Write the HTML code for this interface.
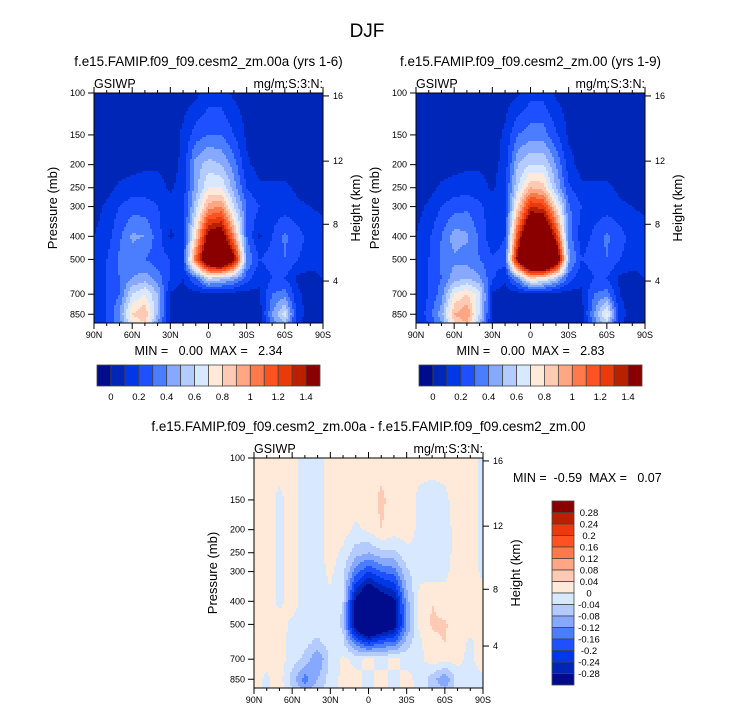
<!DOCTYPE html>
<html><head><meta charset="utf-8"><style>
body{margin:0;background:#fff;}
svg text{font-family:"Liberation Sans",sans-serif;fill:#000;white-space:pre;}
</style></head><body>
<svg id="fig" width="733" height="712" xmlns="http://www.w3.org/2000/svg">
<text x="367" y="37" font-size="19" text-anchor="middle">DJF</text>
</svg>
<script>
// ---- data ----
const lats = [90,80,70,60,50,40,30,20,10,0,-10,-20,-30,-40,-50,-60,-70,-80,-90];
const levels = [100,150,200,250,300,400,500,600,700,850,925];
const fieldA = [
[.05,.05,.05,.05,.05,.05,.05,.05,.07,.15,.15,.08,.05,.05,.05,.05,.05,.05,.05],
[.05,.05,.05,.05,.05,.05,.05,.12,.25,.3,.3,.2,.08,.05,.05,.05,.05,.05,.05],
[.05,.05,.05,.06,.08,.08,.06,.12,.45,.55,.5,.35,.12,.06,.05,.05,.05,.05,.05],
[.05,.06,.12,.15,.15,.15,.08,.15,.45,.7,.7,.45,.2,.12,.12,.12,.08,.05,.05],
[.06,.12,.2,.25,.25,.2,.15,.15,.55,.95,1.0,.6,.3,.2,.15,.15,.12,.1,.08],
[.1,.15,.28,.42,.4,.25,.08,.15,.8,1.5,1.6,1.0,.3,.08,.2,.32,.25,.15,.15],
[.15,.2,.32,.35,.3,.25,.2,.2,1.1,1.8,2.0,1.5,.4,.2,.25,.3,.2,.15,.15],
[.15,.2,.3,.4,.45,.35,.2,.1,.3,.6,.55,.45,.25,.12,.2,.2,.08,.06,.1],
[.12,.2,.3,.6,.7,.5,.08,.05,.05,.05,.05,.05,.05,.08,.3,.35,.12,.05,.05],
[.1,.2,.4,.8,.9,.5,.08,.05,.05,.05,.05,.05,.05,.05,.4,.65,.15,.05,.05],
[.1,.2,.35,.7,.8,.4,.07,.05,.05,.05,.05,.05,.05,.05,.35,.5,.12,.05,.05]];
const fieldB = [
[.05,.05,.05,.05,.05,.05,.05,.05,.08,.16,.16,.08,.05,.05,.05,.05,.05,.05,.05],
[.05,.05,.05,.05,.05,.05,.05,.12,.3,.35,.35,.22,.08,.05,.05,.05,.05,.05,.05],
[.05,.05,.05,.06,.08,.08,.06,.14,.5,.6,.6,.4,.14,.06,.05,.05,.05,.05,.05],
[.05,.06,.12,.15,.15,.15,.08,.18,.6,.9,.85,.5,.22,.12,.12,.12,.08,.05,.05],
[.06,.12,.2,.25,.28,.22,.15,.18,.8,1.3,1.25,.8,.32,.2,.15,.15,.12,.1,.08],
[.1,.18,.3,.45,.42,.28,.12,.2,1.2,1.9,1.9,1.3,.35,.15,.22,.32,.25,.15,.15],
[.15,.2,.32,.38,.35,.3,.22,.25,1.5,2.3,2.4,1.8,.45,.2,.25,.3,.2,.15,.15],
[.15,.2,.3,.45,.5,.42,.22,.12,.4,.8,.75,.55,.25,.12,.2,.2,.08,.06,.1],
[.12,.2,.35,.7,.8,.65,.08,.05,.05,.05,.05,.05,.05,.08,.3,.35,.1,.05,.05],
[.1,.25,.45,.9,1.0,.6,.08,.05,.05,.05,.05,.05,.05,.05,.4,.75,.15,.05,.05],
[.1,.2,.4,.8,.9,.5,.07,.05,.05,.05,.05,.05,.05,.05,.35,.55,.12,.05,.05]];
const fieldD = [
[.02,.02,.02,.02,-.02,-.02,.02,.02,.02,.02,.02,.02,.02,.02,.02,.02,.02,.02,-.01],
[.02,.02,-.01,.02,-.02,-.02,.02,.02,.02,.02,.05,.02,.02,-.01,-.02,-.01,.02,.02,-.01],
[.02,.02,-.01,.02,-.02,-.02,.02,.02,-.01,.01,.04,.02,.02,-.01,-.02,-.02,.02,.02,-.01],
[.02,.02,-.01,.02,-.02,-.02,.02,-.01,-.06,-.08,-.05,-.05,-.01,-.01,-.02,-.02,.02,.02,-.01],
[.02,.02,-.01,.02,-.02,-.02,.01,-.03,-.14,-.2,-.16,-.14,-.05,-.01,-.02,-.01,.02,.02,-.01],
[.02,.02,-.01,.02,-.02,-.01,-.01,-.04,-.3,-.4,-.34,-.3,-.1,.01,.04,.02,.02,.02,.02],
[.02,.02,.02,-.01,-.02,-.02,-.01,-.05,-.34,-.45,-.38,-.32,-.12,.01,.045,.045,.02,.02,.02],
[.02,.02,.02,-.02,-.03,-.05,-.02,-.03,-.14,-.2,-.16,-.15,-.06,-.01,.03,.04,.02,-.01,.02],
[.02,.02,.02,-.02,-.05,-.12,-.03,.01,-.01,.01,-.01,.01,-.01,-.01,.02,.02,.01,-.01,.02],
[.02,-.01,.02,-.06,-.14,-.08,-.02,.01,.01,-.01,.01,-.01,.01,-.01,-.06,-.12,-.02,-.01,-.01],
[.02,-.01,.02,-.04,-.1,-.06,-.02,.01,.01,-.01,.01,-.01,.01,-.01,-.05,-.08,-.02,-.01,-.01]];
const contoursA = [0,.1,.2,.3,.4,.5,.6,.7,.8,.9,1,1.1,1.2,1.3,1.4];
const contoursD = [-.28,-.24,-.2,-.16,-.12,-.08,-.04,0,.04,.08,.12,.16,.2,.24,.28];
const cbarLabelsA = ["0","0.2","0.4","0.6","0.8","1","1.2","1.4"];
const cbarLabelsD = ["0.28","0.24","0.2","0.16","0.12","0.08","0.04","0","-0.04","-0.08","-0.12","-0.16","-0.2","-0.24","-0.28"];
const pTicks = [100,150,200,250,300,400,500,700,850];
const zTicks = [4,8,12,16];
const latTicks = [90,60,30,0,-30,-60,-90];
const latTickLabels = ["90N","60N","30N","0","30S","60S","90S"];
const palette = ["#000c8c","#0026b8","#0037e6","#1f50ff","#4a7dff","#87a8ff","#b4cbff","#d8e9ff","#ffe9d9","#ffcab3","#ffa684","#ff7a4a","#ff5222","#e83a0a","#b82000","#8a0000"];

const NS="http://www.w3.org/2000/svg";
const svg=document.getElementById('fig');
function mk(tag,attrs,parent){const e=document.createElementNS(NS,tag);for(const k in attrs)e.setAttribute(k,attrs[k]);(parent||svg).appendChild(e);return e;}
function txt(x,y,s,size,anchor,parent,rot){const t=mk('text',{x:x,y:y,'font-size':size,'text-anchor':anchor||'middle'},parent);if(rot)t.setAttribute('transform','rotate(-90 '+x+' '+y+')');t.textContent=s;return t;}
function zToP(z){const m=z*1000;return m<11000?1013.25*Math.pow(1-2.25577e-5*m,5.25588):226.32*Math.exp(-(m-11000)/6341.6);}
function colorIdx(v,c){let i=0;while(i<c.length&&v>=c[i])i++;return i;}
function sample(f,lat,p){
  let fi=(90-lat)/10; fi=Math.max(0,Math.min(17.999,fi)); const i0=Math.floor(fi),tx=fi-i0;
  const lp=Math.log(p); let j0=0; while(j0<levels.length-2&&lp>Math.log(levels[j0+1]))j0++;
  let ty=(lp-Math.log(levels[j0]))/(Math.log(levels[j0+1])-Math.log(levels[j0])); ty=Math.max(0,Math.min(1,ty));
  const a=f[j0][i0]*(1-tx)+f[j0][i0+1]*tx, b=f[j0+1][i0]*(1-tx)+f[j0+1][i0+1]*tx;
  return a*(1-ty)+b*ty;
}
function panel(name,x0,y0,field,contours,title,xTitle){
  const W=229,H=230,pTop=100,pBot=925;
  const g=mk('g',{});
  
  
  const xs=lat=>x0+(90-lat)/180*W;
  const ys=p=>y0+Math.log(p/pTop)/Math.log(pBot/pTop)*H;
  const cells=mk('g',{'shape-rendering':'crispEdges'},g);
  
  
  const st=2;
  for(let py=0;py<H;py+=st){
    const p=pTop*Math.pow(pBot/pTop,(py+st/2)/H);
    let run=-1,rs=0;
    for(let px=0;px<W+st;px+=st){
      let ci=-2;
      if(px<W){const lat=90-(px+st/2)/W*180; ci=colorIdx(sample(field,lat,p),contours);}
      if(ci!==run){ if(run>=0){mk('rect',{x:x0+rs,y:y0+py,width:Math.min(px,W)-rs,height:Math.min(st,H-py),fill:palette[run]},cells);} run=ci;rs=px;}
    }
  }
  mk('rect',{x:x0,y:y0,width:W,height:H,fill:'none',stroke:'#000','stroke-width':1},g);
  pTicks.forEach(p=>{const y=ys(p);mk('line',{x1:x0-6,x2:x0,y1:y,y2:y,stroke:'#000'},g);txt(x0-9,y+3,String(p),9,'end',g);});
  zTicks.forEach(z=>{const y=ys(zToP(z));mk('line',{x1:x0+W,x2:x0+W+6,y1:y,y2:y,stroke:'#000'},g);txt(x0+W+10,y+3,String(z),9,'start',g);});
  for(let l=90;l>=-90;l-=10){const x=xs(l);const maj=l%30===0;const len=maj?6:3;
    mk('line',{x1:x,x2:x,y1:y0+H,y2:y0+H+len,stroke:'#000'},g);mk('line',{x1:x,x2:x,y1:y0,y2:y0-len,stroke:'#000'},g);}
  latTicks.forEach((l,i)=>txt(xs(l),y0+H+15,latTickLabels[i],9,'middle',g));
  txt(x0,y0-5,'GSIWP',12.5,'start',g);
  txt(x0+W,y0-5,'mg/m:S:3:N:',12.5,'end',g);
  txt(x0+W/2,y0-27,title,13.4,'middle',g);
  txt(x0-37,y0+H/2,'Pressure (mb)',13,'middle',g,true);
  txt(x0+W+37,y0+H/2,'Height (km)',13,'middle',g,true);
  if(xTitle) txt(x0+W/2,y0+H+32,xTitle,12.5,'middle',g);
}
function hbar(name,x0,y0){
  const g=mk('g',{});
  const W=223,H=21,bw=W/16;
  palette.forEach((c,i)=>mk('rect',{x:x0+i*bw,y:y0,width:bw,height:H,fill:c,stroke:'#444','stroke-width':0.8},g));
  cbarLabelsA.forEach((s,i)=>txt(x0+(1+2*i)*bw,y0+H+14,s,9.5,'middle',g));
}
function vbar(name,x0,y0){
  const g=mk('g',{});
  const W=22,H=184,bh=H/16;
  palette.slice().reverse().forEach((c,i)=>mk('rect',{x:x0,y:y0+i*bh,width:W,height:bh,fill:c,stroke:'#444','stroke-width':0.8},g));
  cbarLabelsD.forEach((s,i)=>txt(x0+W+15,y0+(i+1)*bh+3.5,s,9.5,'middle',g));
}
panel('panel-00a',94,93,fieldA,contoursA,'f.e15.FAMIP.f09_f09.cesm2_zm.00a (yrs 1-6)','MIN =   0.00  MAX =   2.34');
panel('panel-00',416,93,fieldB,contoursA,'f.e15.FAMIP.f09_f09.cesm2_zm.00 (yrs 1-9)','MIN =   0.00  MAX =   2.83');
panel('panel-diff',254,458,fieldD,contoursD,'f.e15.FAMIP.f09_f09.cesm2_zm.00a - f.e15.FAMIP.f09_f09.cesm2_zm.00',null);
hbar('colorbar-00a',97,365);
hbar('colorbar-00',419,365);
vbar('colorbar-diff',552,501);
const mm=txt(513,482,'MIN =  -0.59  MAX =   0.07',12.5,'start');


</script>
</body></html>
